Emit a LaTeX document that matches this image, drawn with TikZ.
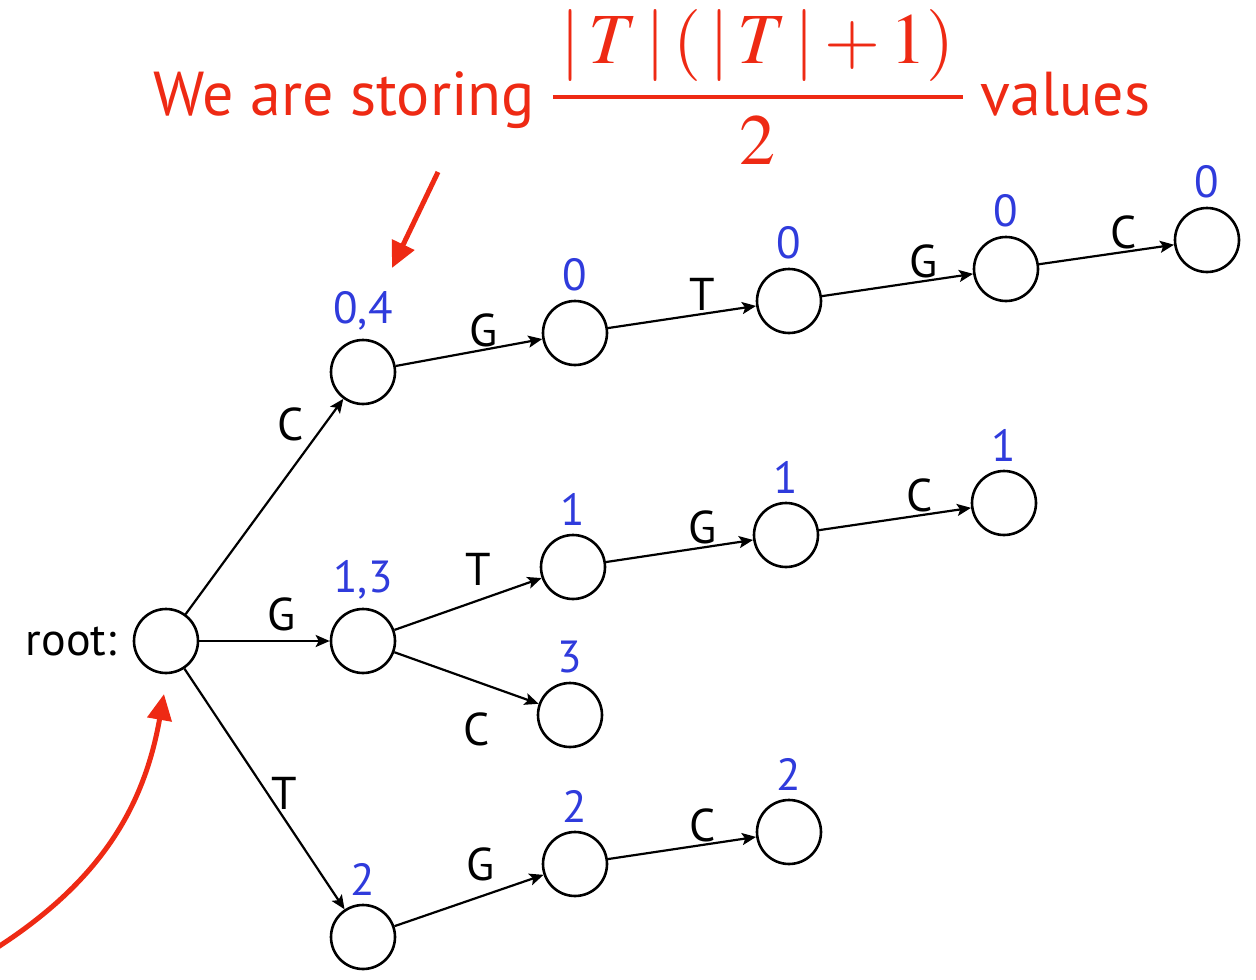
\documentclass[tikz,border=0pt]{standalone}
\usepackage{amsmath}
\usepackage{mathptmx}
\usepackage{fontspec}
\setmainfont{PT Sans}
\usetikzlibrary{positioning,arrows.meta}
\definecolor{valblue}{HTML}{2F3BDC}
\definecolor{notered}{HTML}{EE2A14}

\begin{document}
\begin{tikzpicture}[x=1pt,y=-1pt,font=\fontsize{46}{50}\selectfont,
     nd/.style={draw,circle,line width=2.6pt,minimum size=64pt,inner sep=0pt},
     val/.style={text=valblue,font=\fontsize{45}{50}\selectfont,inner sep=2pt},
     lbl/.style={inner sep=2pt},
     ed/.style={line width=2.2pt,-{Stealth[length=14pt,width=12pt,inset=3pt]}},
     redarr/.style={notered,line width=5pt,-{Triangle[length=26pt,width=24pt]}}]
    \useasboundingbox (0,0) rectangle (1256,980);
    \node[anchor=base,text=notered,inner sep=0pt](title) at (652,115){{\fontsize{62}{70}\selectfont We are storing }{\fontsize{72}{80}\selectfont$\genfrac{}{}{4.5pt}{0}{\,\lvert\,T\,\rvert\,(\,\lvert\,T\,\rvert+1)\,}{2}$}{\fontsize{62}{70}\selectfont\ values}};
    % trie nodes
    \node[nd](root) at (166,641){};  \node[inner sep=0pt,left=16pt of root](rootlbl){root:};
    \node[nd,label={[val,label distance=6pt]above:{0,4}}](c) at (363,372){};
    \node[nd,label={[val,label distance=6pt]above:{1,3}}](g) at (363,641){};
    \node[nd,label={[val,label distance=6pt]above:2}](t) at (363,937){};
    \node[nd,label={[val,label distance=6pt]above:0}](cg) at (575,333){};
    \node[nd,label={[val,label distance=6pt]above:0}](cgt) at (789,301){};
    \node[nd,label={[val,label distance=6pt]above:0}](cgtg) at (1006,269){};
    \node[nd,label={[val,label distance=6pt]above:0}](cgtgc) at (1207,240){};
    \node[nd,label={[val,label distance=6pt]above:1}](gt) at (573,567){};
    \node[nd,label={[val,label distance=6pt]above:1}](gtg) at (786,535){};
    \node[nd,label={[val,label distance=6pt]above:1}](gtgc) at (1004,503){};
    \node[nd,label={[val,label distance=6pt]above:3}](gc) at (570,715){};
    \node[nd,label={[val,label distance=6pt]above:2}](tg) at (575,864){};
    \node[nd,label={[val,label distance=6pt]above:2}](tgc) at (789,832){};
    % edges
    \draw[ed](root)--node[lbl,pos=.78,above left=3pt]{C}(c);
    \draw[ed](root)--node[lbl,pos=.63,above=7pt]{G}(g);
    \draw[ed](root)--node[lbl,pos=.52,right=1pt]{T}(t);
    \draw[ed](g)--node[lbl,pos=.57,below=28pt]{C}(gc);
    \foreach \a/\b/\l/\p/\d in {c/cg/G/.6/0,cg/cgt/T/.64/0,cgt/cgtg/G/.67/0,cgtg/cgtgc/C/.63/0,
       g/gt/T/.57/12,gt/gtg/G/.66/0,gtg/gtgc/C/.66/0,t/tg/G/.58/12,tg/tgc/C/.64/0}{
      \draw[ed](\a)--node[lbl,pos=\p,above=\d pt]{\l}(\b);}
    % red pointers
    \coordinate(ptrfrom) at (438,172); \coordinate(ptrto) at (392,268);
    \draw[redarr](ptrfrom)--(ptrto);
    \coordinate(crvfrom) at (-2,947); \coordinate(crvto) at (164,694);
    \draw[redarr](crvfrom) to[out=33,in=-100](crvto);
  \end{tikzpicture}
\end{document}
